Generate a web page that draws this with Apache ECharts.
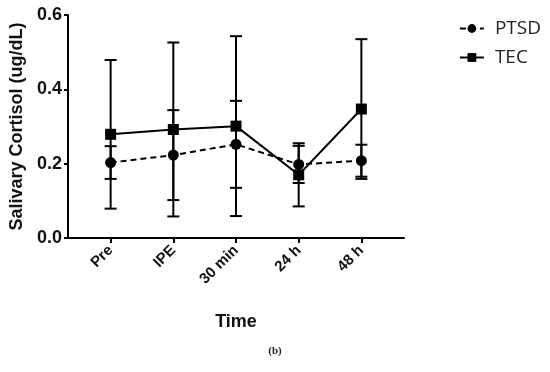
<!DOCTYPE html>
<html><head><meta charset="utf-8">
<script src="https://cdn.jsdelivr.net/npm/echarts@6/dist/echarts.min.js"></script>
<style>html,body{margin:0;padding:0;background:#fff}#c{width:550px;height:372px}</style>
</head><body><div id="c"></div>
<script>
var categories = ['Pre', 'IPE', '30 min', '24 h', '48 h'];
var ptsdMean = [0.203, 0.223, 0.252, 0.198, 0.208];
var ptsdSD   = [0.044, 0.121, 0.117, 0.050, 0.043];
var tecMean  = [0.279, 0.292, 0.301, 0.170, 0.347];
var tecSD    = [0.200, 0.234, 0.242, 0.085, 0.188];
var yTicks = [0, 0.2, 0.4, 0.6];

var font = 'Liberation Sans, Arial, sans-serif';
function pts(m){ return m.map(function(v,i){ return [i, v]; }); }
function errs(m, s){ return m.map(function(v,i){ return [i, v - s[i], v + s[i]]; }); }
function errRender(params, api){
  var x = api.value(0);
  var lo = api.coord([x, api.value(1)]);
  var hi = api.coord([x, api.value(2)]);
  var w = 6;
  var st = {stroke:'#000', lineWidth:2};
  return {type:'group', children:[
    {type:'line', shape:{x1:lo[0], y1:lo[1], x2:hi[0], y2:hi[1]}, style:st},
    {type:'line', shape:{x1:lo[0]-w, y1:lo[1], x2:lo[0]+w, y2:lo[1]}, style:st},
    {type:'line', shape:{x1:hi[0]-w, y1:hi[1], x2:hi[0]+w, y2:hi[1]}, style:st}
  ]};
}
var chart = echarts.init(document.getElementById('c'));
chart.setOption({
  animation:false,
  backgroundColor:'#fff',
  grid:{left:66, right:146, top:15, bottom:134},
  legend:{
    right:4, top:14, orient:'vertical', itemGap:10, itemWidth:24, itemHeight:11,
    textStyle:{fontFamily:'Open Sans, sans-serif', fontSize:19, color:'#222', padding:[0,0,0,6]},
    data:['PTSD','TEC']
  },
  xAxis:{
    type:'value', min:-0.68, max:4.68,
    splitLine:{show:false},
    axisLine:{onZero:false, lineStyle:{color:'#000', width:2}},
    axisTick:{show:true, length:5, customValues:[0,1,2,3,4], lineStyle:{color:'#000', width:2}},
    axisLabel:{customValues:[0,1,2,3,4], rotate:45, margin:10, color:'#111', fontFamily:font, fontWeight:'bold', fontSize:15,
      formatter:function(v){ return categories[Math.round(v)] || ''; }},
    name:'Time', nameLocation:'middle', nameGap:75,
    nameTextStyle:{fontFamily:font, fontWeight:'bold', fontSize:18, color:'#111'}
  },
  yAxis:{
    type:'value', min:0, max:0.6, interval:0.2,
    splitLine:{show:false},
    axisLine:{show:true, onZero:false, lineStyle:{color:'#000', width:2}},
    axisTick:{show:true, length:4, lineStyle:{color:'#000', width:2}},
    axisLabel:{margin:6, color:'#111', fontFamily:font, fontWeight:'bold', fontSize:18,
      formatter:function(v){ return v.toFixed(1); }},
    name:'Salivary Cortisol (ug/dL)', nameLocation:'middle', nameGap:42,
    nameTextStyle:{fontFamily:font, fontWeight:'bold', fontSize:18, color:'#111'}
  },
  graphic:[{type:'text', left:'center', top:346, style:{text:'(b)', font:'bold 11px "Liberation Serif", serif', fill:'#222'}}],
  series:[
    {type:'custom', name:'ptsdErr', renderItem:errRender, data:errs(ptsdMean, ptsdSD), z:1, silent:true},
    {type:'custom', name:'tecErr', renderItem:errRender, data:errs(tecMean, tecSD), z:1, silent:true},
    {type:'line', name:'PTSD', data:pts(ptsdMean), symbol:'circle', symbolSize:11,
      lineStyle:{color:'#000', width:2, type:[6,4]}, itemStyle:{color:'#000'}, z:3},
    {type:'line', name:'TEC', data:pts(tecMean), symbol:'rect', symbolSize:11,
      lineStyle:{color:'#000', width:2}, itemStyle:{color:'#000'}, z:3}
  ]
});
</script></body></html>
